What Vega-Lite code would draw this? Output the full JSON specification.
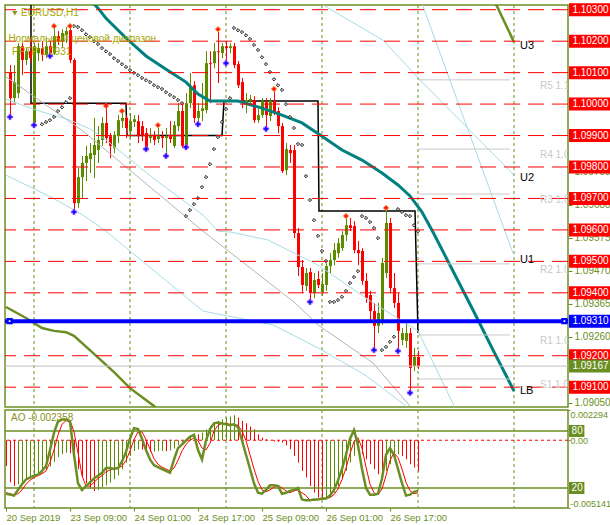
{
"$schema": "https://vega.github.io/schema/vega-lite/v6.json",
"background": "white",
"padding": {"left": 2, "top": 2, "right": 0, "bottom": 0},
"bounds": "flush",
"spacing": 3,
"config": {"view": {"stroke": "#6b8e23", "strokeWidth": 1.5}, "text": {"font": "Liberation Sans"}},
"datasets": {
"levels": [{"p":1.103,"t":"1.10300"},{"p":1.102,"t":"1.10200"},{"p":1.101,"t":"1.10100"},{"p":1.1,"t":"1.10000"},{"p":1.099,"t":"1.09900"},{"p":1.098,"t":"1.09800"},{"p":1.097,"t":"1.09700"},{"p":1.096,"t":"1.09600"},{"p":1.095,"t":"1.09500"},{"p":1.094,"t":"1.09400"},{"p":1.092,"t":"1.09200"},{"p":1.091,"t":"1.09100"}],
"candles": [
{"i":1,"o":1.10102,"h":1.10124,"l":1.09959,"c":1.10019},{"i":2,"o":1.10019,"h":1.10124,"l":1.10003,"c":1.10070},{"i":3,"o":1.10035,"h":1.10194,"l":1.10019,"c":1.10184},{"i":4,"o":1.10184,"h":1.10194,"l":1.10092,"c":1.10140},{"i":5,"o":1.10140,"h":1.10178,"l":1.10124,"c":1.10168},{"i":6,"o":1.10168,"h":1.10210,"l":1.10130,"c":1.10146},{"i":7,"o":1.09940,"h":1.10194,"l":1.09933,"c":1.10184},{"i":8,"o":1.10162,"h":1.10194,"l":1.10137,"c":1.10178},{"i":9,"o":1.10178,"h":1.10200,"l":1.10137,"c":1.10156},{"i":10,"o":1.10156,"h":1.10207,"l":1.10146,"c":1.10184},
{"i":11,"o":1.10184,"h":1.10200,"l":1.10153,"c":1.10162},{"i":12,"o":1.10162,"h":1.10248,"l":1.10156,"c":1.10216},{"i":13,"o":1.10216,"h":1.10232,"l":1.10188,"c":1.10200},{"i":14,"o":1.10200,"h":1.10238,"l":1.10178,"c":1.10226},{"i":15,"o":1.10219,"h":1.10245,"l":1.10194,"c":1.10232},{"i":16,"o":1.10235,"h":1.10248,"l":1.10130,"c":1.10140},{"i":17,"o":1.10140,"h":1.10146,"l":1.09657,"c":1.09685},{"i":18,"o":1.09685,"h":1.09797,"l":1.09670,"c":1.09768},{"i":19,"o":1.09768,"h":1.09835,"l":1.09701,"c":1.09813},{"i":20,"o":1.09813,"h":1.09867,"l":1.09755,"c":1.09835},
{"i":21,"o":1.09825,"h":1.09876,"l":1.09781,"c":1.09844},{"i":22,"o":1.09838,"h":1.09956,"l":1.09765,"c":1.09870},{"i":23,"o":1.09854,"h":1.09930,"l":1.09813,"c":1.09886},{"i":24,"o":1.09886,"h":1.09959,"l":1.09867,"c":1.09940},{"i":25,"o":1.09940,"h":1.09994,"l":1.09876,"c":1.09892},{"i":26,"o":1.09898,"h":1.09908,"l":1.09828,"c":1.09867},{"i":27,"o":1.09860,"h":1.09914,"l":1.09844,"c":1.09902},{"i":28,"o":1.09898,"h":1.09965,"l":1.09876,"c":1.09949},{"i":29,"o":1.09946,"h":1.09978,"l":1.09924,"c":1.09956},{"i":30,"o":1.09956,"h":1.09965,"l":1.09892,"c":1.09924},
{"i":31,"o":1.09914,"h":1.09971,"l":1.09892,"c":1.09946},{"i":32,"o":1.09943,"h":1.09965,"l":1.09927,"c":1.09952},{"i":33,"o":1.09946,"h":1.09965,"l":1.09876,"c":1.09898},{"i":34,"o":1.09930,"h":1.09946,"l":1.09882,"c":1.09898},{"i":35,"o":1.09908,"h":1.09924,"l":1.09857,"c":1.09860},{"i":36,"o":1.09892,"h":1.09924,"l":1.09876,"c":1.09902},{"i":37,"o":1.09902,"h":1.09914,"l":1.09870,"c":1.09886},{"i":38,"o":1.09889,"h":1.09933,"l":1.09876,"c":1.09898},{"i":39,"o":1.09898,"h":1.09914,"l":1.09860,"c":1.09892},{"i":40,"o":1.09892,"h":1.09924,"l":1.09835,"c":1.09898},
{"i":41,"o":1.09898,"h":1.09946,"l":1.09876,"c":1.09889},{"i":42,"o":1.09867,"h":1.09946,"l":1.09860,"c":1.09933},{"i":43,"o":1.09930,"h":1.10003,"l":1.09914,"c":1.09978},{"i":44,"o":1.09978,"h":1.10003,"l":1.09860,"c":1.09867},{"i":45,"o":1.09867,"h":1.10035,"l":1.09863,"c":1.10003},{"i":46,"o":1.10003,"h":1.10099,"l":1.09987,"c":1.10057},{"i":47,"o":1.10060,"h":1.10073,"l":1.09940,"c":1.09956},{"i":48,"o":1.09956,"h":1.10003,"l":1.09936,"c":1.09978},{"i":49,"o":1.09978,"h":1.10067,"l":1.09946,"c":1.09987},{"i":50,"o":1.09981,"h":1.10168,"l":1.09971,"c":1.10130},
{"i":51,"o":1.10130,"h":1.10168,"l":1.10003,"c":1.10127},{"i":52,"o":1.10130,"h":1.10194,"l":1.10114,"c":1.10168},{"i":53,"o":1.10168,"h":1.10238,"l":1.10067,"c":1.10165},{"i":54,"o":1.10162,"h":1.10194,"l":1.10146,"c":1.10184},{"i":55,"o":1.10184,"h":1.10200,"l":1.10130,"c":1.10178},{"i":56,"o":1.10178,"h":1.10194,"l":1.10162,"c":1.10184},{"i":57,"o":1.10184,"h":1.10194,"l":1.10114,"c":1.10124},{"i":58,"o":1.10127,"h":1.10137,"l":1.10051,"c":1.10060},{"i":59,"o":1.10070,"h":1.10083,"l":1.09987,"c":1.10010},{"i":60,"o":1.10003,"h":1.10035,"l":1.09971,"c":1.10013},
{"i":61,"o":1.10010,"h":1.10029,"l":1.09997,"c":1.10016},{"i":62,"o":1.10013,"h":1.10025,"l":1.09940,"c":1.09949},{"i":63,"o":1.09949,"h":1.09987,"l":1.09940,"c":1.09965},{"i":64,"o":1.09965,"h":1.10019,"l":1.09956,"c":1.10010},{"i":65,"o":1.10006,"h":1.10019,"l":1.09921,"c":1.09965},{"i":66,"o":1.09962,"h":1.10019,"l":1.09946,"c":1.10010},{"i":67,"o":1.10010,"h":1.10048,"l":1.09965,"c":1.09971},{"i":68,"o":1.09978,"h":1.09990,"l":1.09908,"c":1.09930},{"i":69,"o":1.09930,"h":1.09940,"l":1.09781,"c":1.09787},{"i":70,"o":1.09790,"h":1.09876,"l":1.09774,"c":1.09857},
{"i":71,"o":1.09854,"h":1.09870,"l":1.09813,"c":1.09844},{"i":72,"o":1.09854,"h":1.09870,"l":1.09574,"c":1.09590},{"i":73,"o":1.09590,"h":1.09606,"l":1.09453,"c":1.09482},{"i":74,"o":1.09482,"h":1.09504,"l":1.09399,"c":1.09425},{"i":75,"o":1.09422,"h":1.09479,"l":1.09406,"c":1.09463},{"i":76,"o":1.09466,"h":1.09479,"l":1.09371,"c":1.09399},{"i":77,"o":1.09399,"h":1.09463,"l":1.09383,"c":1.09441},{"i":78,"o":1.09444,"h":1.09469,"l":1.09415,"c":1.09425},{"i":79,"o":1.09403,"h":1.09463,"l":1.09390,"c":1.09428},{"i":80,"o":1.09425,"h":1.09495,"l":1.09406,"c":1.09485},
{"i":81,"o":1.09485,"h":1.09526,"l":1.09463,"c":1.09504},{"i":82,"o":1.09504,"h":1.09558,"l":1.09488,"c":1.09536},{"i":83,"o":1.09526,"h":1.09574,"l":1.09511,"c":1.09558},{"i":84,"o":1.09542,"h":1.09596,"l":1.09533,"c":1.09584},{"i":85,"o":1.09584,"h":1.09644,"l":1.09565,"c":1.09615},{"i":86,"o":1.09615,"h":1.09638,"l":1.09596,"c":1.09606},{"i":87,"o":1.09612,"h":1.09628,"l":1.09526,"c":1.09536},{"i":88,"o":1.09536,"h":1.09565,"l":1.09488,"c":1.09526},{"i":89,"o":1.09533,"h":1.09542,"l":1.09425,"c":1.09438},{"i":90,"o":1.09438,"h":1.09463,"l":1.09368,"c":1.09383},
{"i":91,"o":1.09393,"h":1.09406,"l":1.09310,"c":1.09342},{"i":92,"o":1.09342,"h":1.09368,"l":1.09218,"c":1.09295},{"i":93,"o":1.09295,"h":1.09368,"l":1.09272,"c":1.09336},{"i":94,"o":1.09310,"h":1.09511,"l":1.09298,"c":1.09495},{"i":95,"o":1.09463,"h":1.09670,"l":1.09447,"c":1.09622},{"i":96,"o":1.09622,"h":1.09638,"l":1.09399,"c":1.09415},{"i":97,"o":1.09415,"h":1.09463,"l":1.09352,"c":1.09368},{"i":98,"o":1.09368,"h":1.09399,"l":1.09215,"c":1.09279},{"i":99,"o":1.09250,"h":1.09288,"l":1.09234,"c":1.09272},{"i":100,"o":1.09247,"h":1.09310,"l":1.09225,"c":1.09272},
{"i":101,"o":1.09272,"h":1.09288,"l":1.09082,"c":1.09161},{"i":102,"o":1.09167,"h":1.09225,"l":1.09151,"c":1.09196},{"i":103,"o":1.09196,"h":1.09215,"l":1.09158,"c":1.09167}
],
"sar": [
{"i":9,"p":1.09936},{"i":10,"p":1.09943},{"i":11,"p":1.09949},{"i":12,"p":1.09959},{"i":13,"p":1.09978},{"i":14,"p":1.09990},{"i":15,"p":1.10006},{"i":16,"p":1.10019},
{"i":17,"p":1.10248},{"i":18,"p":1.10245},{"i":19,"p":1.10235},{"i":20,"p":1.10222},{"i":21,"p":1.10213},{"i":22,"p":1.10200},{"i":23,"p":1.10191},{"i":24,"p":1.10178},{"i":25,"p":1.10168},{"i":26,"p":1.10159},{"i":27,"p":1.10146},{"i":28,"p":1.10137},{"i":29,"p":1.10127},{"i":30,"p":1.10118},{"i":31,"p":1.10108},{"i":32,"p":1.10099},{"i":33,"p":1.10092},{"i":34,"p":1.10083},{"i":35,"p":1.10076},{"i":36,"p":1.10070},{"i":37,"p":1.10060},{"i":38,"p":1.10054},{"i":39,"p":1.10048},{"i":40,"p":1.10038},{"i":41,"p":1.10029},{"i":42,"p":1.10022},{"i":43,"p":1.10013},{"i":44,"p":1.10003},
{"i":45,"p":1.09644},{"i":46,"p":1.09663},{"i":47,"p":1.09682},{"i":48,"p":1.09701},{"i":49,"p":1.09736},{"i":50,"p":1.09768},{"i":51,"p":1.09809},{"i":52,"p":1.09857},{"i":53,"p":1.09895},{"i":54,"p":1.09943},{"i":55,"p":1.09984},{"i":56,"p":1.10019},
{"i":57,"p":1.10242},{"i":58,"p":1.10235},{"i":59,"p":1.10229},{"i":60,"p":1.10219},{"i":61,"p":1.10207},{"i":62,"p":1.10188},{"i":63,"p":1.10172},{"i":64,"p":1.10149},{"i":65,"p":1.10127},{"i":66,"p":1.10102},{"i":67,"p":1.10079},{"i":68,"p":1.10060},{"i":69,"p":1.10045},{"i":70,"p":1.10000},{"i":71,"p":1.09959},{"i":72,"p":1.09924},{"i":73,"p":1.09873},{"i":74,"p":1.09870},{"i":75,"p":1.09771},{"i":76,"p":1.09695},{"i":77,"p":1.09631},{"i":78,"p":1.09581},{"i":79,"p":1.09533},{"i":80,"p":1.09501},
{"i":81,"p":1.09371},{"i":82,"p":1.09371},{"i":83,"p":1.09377},{"i":84,"p":1.09387},{"i":85,"p":1.09406},{"i":86,"p":1.09431},{"i":87,"p":1.09450},{"i":88,"p":1.09469},
{"i":89,"p":1.09644},{"i":90,"p":1.09638},{"i":91,"p":1.09625},{"i":92,"p":1.09606},{"i":93,"p":1.09574},
{"i":94,"p":1.09218},{"i":95,"p":1.09228},{"i":96,"p":1.09244},{"i":97,"p":1.09260},
{"i":98,"p":1.09666},{"i":99,"p":1.09657},{"i":100,"p":1.09647},{"i":101,"p":1.09644},{"i":102,"p":1.09615},{"i":103,"p":1.09596}
],
"fracUp": [{"i":12,"p":1.10248},{"i":16,"p":1.10248},{"i":25,"p":1.09994},{"i":29,"p":1.09978},{"i":38,"p":1.09933},{"i":53,"p":1.10238},{"i":67,"p":1.10048},{"i":85,"p":1.09644},{"i":95,"p":1.09670}],
"fracDn": [{"i":1,"p":1.09959},{"i":7,"p":1.09933},{"i":11,"p":1.10153},{"i":17,"p":1.09657},{"i":35,"p":1.09857},{"i":40,"p":1.09835},{"i":45,"p":1.09863},{"i":48,"p":1.09936},{"i":55,"p":1.10130},{"i":65,"p":1.09921},{"i":76,"p":1.09371},{"i":92,"p":1.09218},{"i":98,"p":1.09215},{"i":101,"p":1.09082}],
"ind": [
{"s":"teal","i":20,"p":1.10346},{"s":"teal","i":23,"p":1.10305},{"s":"teal","i":25,"p":1.10273},{"s":"teal","i":30,"p":1.10210},{"s":"teal","i":35,"p":1.10153},{"s":"teal","i":40,"p":1.10111},{"s":"teal","i":45,"p":1.10070},{"s":"teal","i":48,"p":1.10032},{"s":"teal","i":51,"p":1.10010},{"s":"teal","i":58,"p":1.10010},{"s":"teal","i":64,"p":1.09987},{"s":"teal","i":69,"p":1.09965},{"s":"teal","i":74,"p":1.09940},{"s":"teal","i":79,"p":1.09898},{"s":"teal","i":84,"p":1.09854},{"s":"teal","i":89,"p":1.09822},{"s":"teal","i":94,"p":1.09781},{"s":"teal","i":98,"p":1.09743},{"s":"teal","i":101,"p":1.09708},{"s":"teal","i":104,"p":1.09657},{"s":"teal","i":107,"p":1.09587},{"s":"teal","i":112,"p":1.09463},{"s":"teal","i":117,"p":1.09339},{"s":"teal","i":122,"p":1.09212},{"s":"teal","i":127,"p":1.09088},
{"s":"olLow","i":0,"p":1.09355},{"s":"olLow","i":5,"p":1.09320},{"s":"olLow","i":9,"p":1.09288},{"s":"olLow","i":12,"p":1.09279},{"s":"olLow","i":15,"p":1.09275},{"s":"olLow","i":17,"p":1.09263},{"s":"olLow","i":22,"p":1.09206},{"s":"olLow","i":27,"p":1.09148},{"s":"olLow","i":31,"p":1.09097},{"s":"olLow","i":37,"p":1.09040},{"s":"olLow","i":40,"p":1.09002},
{"s":"olUp","i":121,"p":1.10337},{"s":"olUp","i":122.75,"p":1.10311},{"s":"olUp","i":127,"p":1.10197},
{"s":"lbUp","i":0,"p":1.10016},{"s":"lbUp","i":7.5,"p":1.09981},{"s":"lbUp","i":16,"p":1.09949},{"s":"lbUp","i":21,"p":1.09921},{"s":"lbUp","i":25,"p":1.09886},{"s":"lbUp","i":36.75,"p":1.09765},{"s":"lbUp","i":49.25,"p":1.09647},{"s":"lbUp","i":53,"p":1.09596},{"s":"lbUp","i":56.25,"p":1.09593},{"s":"lbUp","i":65.5,"p":1.09568},{"s":"lbUp","i":78,"p":1.09488},{"s":"lbUp","i":91.75,"p":1.09368},{"s":"lbUp","i":103,"p":1.09279},{"s":"lbUp","i":112.25,"p":1.09034},
{"s":"lbLow","i":0,"p":1.09774},{"s":"lbLow","i":11.75,"p":1.09701},{"s":"lbLow","i":19.25,"p":1.09647},{"s":"lbLow","i":25,"p":1.09596},{"s":"lbLow","i":49.25,"p":1.09342},{"s":"lbLow","i":66.75,"p":1.09298},{"s":"lbLow","i":78,"p":1.09225},{"s":"lbLow","i":89.75,"p":1.09139},{"s":"lbLow","i":100,"p":1.09040},{"s":"lbLow","i":101.75,"p":1.09018},
{"s":"lbU1","i":103.5,"p":1.10324},{"s":"lbU1","i":104.25,"p":1.10311},{"s":"lbU1","i":126.75,"p":1.09526},
{"s":"lbU2","i":76.75,"p":1.10337},{"s":"lbU2","i":79.25,"p":1.10315},{"s":"lbU2","i":94.25,"p":1.10203},{"s":"lbU2","i":104.25,"p":1.10067},{"s":"lbU2","i":127,"p":1.09774},
{"s":"gray","i":0,"p":1.10086},{"s":"gray","i":1.25,"p":1.10076},{"s":"gray","i":19.25,"p":1.09914},{"s":"gray","i":49.25,"p":1.09596},{"s":"gray","i":72.25,"p":1.09368},{"s":"gray","i":78,"p":1.09298},{"s":"gray","i":91.75,"p":1.09177},{"s":"gray","i":101,"p":1.09040}
],
"blk": [{"k":0,"i":6.25,"p":1.10315},{"k":1,"i":6.25,"p":1.10003},{"k":2,"i":30,"p":1.10003},{"k":3,"i":30.25,"p":1.09900},{"k":4,"i":54,"p":1.09900},{"k":5,"i":54.5,"p":1.10010},{"k":6,"i":78,"p":1.10010},{"k":7,"i":78.25,"p":1.09660},{"k":8,"i":102.25,"p":1.09660},{"k":9,"i":103,"p":1.09272}],
"pivots": [{"p":1.10077,"t":"R5 1.1"},{"p":1.09857,"t":"R4 1.0"},{"p":1.09714,"t":"R3 1.0"},{"p":1.09492,"t":"R2 1.0"},{"p":1.09266,"t":"R1 1.0"},{"p":1.09126,"t":"S1 1.0"}],
"ulabels": [{"t":"U3","p":1.10184},{"t":"U2","p":1.09765},{"t":"U1","p":1.09504},{"t":"LB","p":1.09088}],
"ao": [
{"i":0,"ao":-0.00195},{"i":1,"ao":-0.00320},{"i":2,"ao":-0.00347},{"i":3,"ao":-0.00334},{"i":4,"ao":-0.00316},{"i":5,"ao":-0.00301},{"i":6,"ao":-0.00291},{"i":7,"ao":-0.00276},{"i":8,"ao":-0.00261},{"i":9,"ao":-0.00245},{"i":10,"ao":-0.00228},
{"i":11,"ao":-0.00200},{"i":12,"ao":-0.00164},{"i":13,"ao":-0.00127},{"i":14,"ao":-0.00106},{"i":15,"ao":-0.00094},{"i":16,"ao":-0.00099},{"i":17,"ao":-0.00157},{"i":18,"ao":-0.00220},{"i":19,"ao":-0.00276},{"i":20,"ao":-0.00326},
{"i":21,"ao":-0.00367},{"i":22,"ao":-0.00385},{"i":23,"ao":-0.00377},{"i":24,"ao":-0.00359},{"i":25,"ao":-0.00342},{"i":26,"ao":-0.00321},{"i":27,"ao":-0.00296},{"i":28,"ao":-0.00266},{"i":29,"ao":-0.00220},{"i":30,"ao":-0.00170},
{"i":31,"ao":-0.00119},{"i":32,"ao":-0.00081},{"i":33,"ao":-0.00068},{"i":34,"ao":-0.00071},{"i":35,"ao":-0.00083},{"i":36,"ao":-0.00089},{"i":37,"ao":-0.00086},{"i":38,"ao":-0.00083},{"i":39,"ao":-0.00081},{"i":40,"ao":-0.00083},
{"i":41,"ao":-0.00078},{"i":42,"ao":-0.00063},{"i":43,"ao":-0.00038},{"i":44,"ao":-0.00018},{"i":45,"ao":0.00003},{"i":46,"ao":0.00033},{"i":47,"ao":0.00046},{"i":48,"ao":0.00045},{"i":49,"ao":0.00058},{"i":50,"ao":0.00083},
{"i":51,"ao":0.00109},{"i":52,"ao":0.00134},{"i":53,"ao":0.00147},{"i":54,"ao":0.00159},{"i":55,"ao":0.00172},{"i":56,"ao":0.00180},{"i":57,"ao":0.00190},{"i":58,"ao":0.00172},{"i":59,"ao":0.00147},{"i":60,"ao":0.00129},
{"i":61,"ao":0.00104},{"i":62,"ao":0.00083},{"i":63,"ao":0.00046},{"i":64,"ao":0.00020},{"i":65,"ao":0.00008},{"i":66,"ao":-0.00003},{"i":67,"ao":-0.00010},{"i":68,"ao":-0.00013},{"i":69,"ao":-0.00018},{"i":70,"ao":-0.00038},
{"i":71,"ao":-0.00068},{"i":72,"ao":-0.00119},{"i":73,"ao":-0.00170},{"i":74,"ao":-0.00233},{"i":75,"ao":-0.00283},{"i":76,"ao":-0.00347},{"i":77,"ao":-0.00397},{"i":78,"ao":-0.00435},{"i":79,"ao":-0.00453},{"i":80,"ao":-0.00448},
{"i":81,"ao":-0.00435},{"i":82,"ao":-0.00397},{"i":83,"ao":-0.00347},{"i":84,"ao":-0.00296},{"i":85,"ao":-0.00233},{"i":86,"ao":-0.00170},{"i":87,"ao":-0.00119},{"i":88,"ao":-0.00094},{"i":89,"ao":-0.00106},{"i":90,"ao":-0.00144},
{"i":91,"ao":-0.00182},{"i":92,"ao":-0.00220},{"i":93,"ao":-0.00258},{"i":94,"ao":-0.00271},{"i":95,"ao":-0.00233},{"i":96,"ao":-0.00182},{"i":97,"ao":-0.00119},{"i":98,"ao":-0.00106},{"i":99,"ao":-0.00119},{"i":100,"ao":-0.00144},
{"i":101,"ao":-0.00182},{"i":102,"ao":-0.00207},{"i":103,"ao":-0.00236}
],
"stoch": [
{"i":0,"m":14,"s":15},{"i":1,"m":13,"s":14},{"i":2,"m":12,"s":13},{"i":3,"m":18,"s":14},{"i":4,"m":24,"s":18},{"i":5,"m":29,"s":24},{"i":6,"m":31,"s":28},{"i":7,"m":33,"s":31},{"i":8,"m":34,"s":33},{"i":9,"m":38,"s":35},{"i":10,"m":43,"s":38},
{"i":11,"m":60,"s":47},{"i":12,"m":78,"s":60},{"i":13,"m":90,"s":76},{"i":14,"m":92,"s":87},{"i":15,"m":92,"s":91},{"i":16,"m":90,"s":91},{"i":17,"m":55,"s":79},{"i":18,"m":25,"s":57},{"i":19,"m":18,"s":33},{"i":20,"m":22,"s":22},
{"i":21,"m":26,"s":22},{"i":22,"m":30,"s":26},{"i":23,"m":33,"s":30},{"i":24,"m":36,"s":33},{"i":25,"m":41,"s":37},{"i":26,"m":41,"s":39},{"i":27,"m":40,"s":41},{"i":28,"m":41,"s":41},{"i":29,"m":48,"s":43},{"i":30,"m":58,"s":49},
{"i":31,"m":72,"s":59},{"i":32,"m":83,"s":71},{"i":33,"m":82,"s":79},{"i":34,"m":72,"s":79},{"i":35,"m":60,"s":71},{"i":36,"m":50,"s":61},{"i":37,"m":44,"s":51},{"i":38,"m":42,"s":45},{"i":39,"m":40,"s":42},{"i":40,"m":38,"s":40},
{"i":41,"m":36,"s":38},{"i":42,"m":50,"s":41},{"i":43,"m":62,"s":49},{"i":44,"m":66,"s":59},{"i":45,"m":70,"s":66},{"i":46,"m":74,"s":70},{"i":47,"m":76,"s":73},{"i":48,"m":60,"s":70},{"i":49,"m":50,"s":62},{"i":50,"m":70,"s":60},
{"i":51,"m":82,"s":67},{"i":52,"m":88,"s":80},{"i":53,"m":89,"s":86},{"i":54,"m":88,"s":88},{"i":55,"m":87,"s":88},{"i":56,"m":86,"s":87},{"i":57,"m":87,"s":87},{"i":58,"m":84,"s":86},{"i":59,"m":70,"s":80},{"i":60,"m":55,"s":70},
{"i":61,"m":40,"s":55},{"i":62,"m":25,"s":40},{"i":63,"m":15,"s":27},{"i":64,"m":14,"s":18},{"i":65,"m":18,"s":16},{"i":66,"m":23,"s":18},{"i":67,"m":23,"s":21},{"i":68,"m":22,"s":23},{"i":69,"m":14,"s":20},{"i":70,"m":15,"s":17},
{"i":71,"m":17,"s":15},{"i":72,"m":18,"s":17},{"i":73,"m":20,"s":18},{"i":74,"m":8,"s":15},{"i":75,"m":7,"s":12},{"i":76,"m":7,"s":7},{"i":77,"m":8,"s":7},{"i":78,"m":8,"s":8},{"i":79,"m":9,"s":8},{"i":80,"m":9,"s":9},
{"i":81,"m":12,"s":10},{"i":82,"m":18,"s":13},{"i":83,"m":28,"s":19},{"i":84,"m":40,"s":29},{"i":85,"m":55,"s":41},{"i":86,"m":72,"s":56},{"i":87,"m":81,"s":69},{"i":88,"m":65,"s":73},{"i":89,"m":40,"s":62},{"i":90,"m":20,"s":42},
{"i":91,"m":13,"s":24},{"i":92,"m":13,"s":15},{"i":93,"m":14,"s":13},{"i":94,"m":30,"s":19},{"i":95,"m":55,"s":33},{"i":96,"m":62,"s":49},{"i":97,"m":55,"s":57},{"i":98,"m":40,"s":52},{"i":99,"m":25,"s":40},{"i":100,"m":12,"s":26},
{"i":101,"m":13,"s":17},{"i":102,"m":16,"s":14},{"i":103,"m":17,"s":15}
]
},
"vconcat": [
{
"width": 563, "height": 402,
"resolve": {"axis": {"y": "independent", "x": "independent"}},
"layer": [
{"data": {"values": [{"i":7},{"i":31},{"i":55},{"i":79},{"i":103},{"i":127}]},
 "mark": {"type": "rule", "color": "#6b8e23", "strokeDash": [3,3], "strokeWidth": 1},
 "encoding": {"x": {"field": "i", "type": "quantitative", "scale": {"domain": [-0.25,140.5], "nice": false, "zero": false}, "axis": null}}},
{"data": {"name": "blk"},
 "mark": {"type": "line", "color": "#000000", "strokeWidth": 1.5, "clip": true},
 "encoding": {"x": {"field": "i", "type": "quantitative", "scale": {"domain": [-0.25,140.5], "nice": false, "zero": false}, "axis": null},
  "y": {"field": "p", "type": "quantitative", "scale": {"domain": [1.09037,1.10315], "nice": false, "zero": false}, "axis": null},
  "order": {"field": "k"}}},
{"data": {"name": "candles"},
 "mark": {"type": "rule", "strokeWidth": 1, "xOffset": 0.5},
 "encoding": {"x": {"field": "i", "type": "quantitative", "scale": {"domain": [-0.25,140.5], "nice": false, "zero": false}, "axis": null},
  "y": {"field": "l", "type": "quantitative", "scale": {"domain": [1.09037,1.10315], "nice": false, "zero": false}, "axis": null},
  "y2": {"field": "h"},
  "color": {"condition": {"test": "datum.c >= datum.o", "value": "#5b8c00"}, "value": "#ff0000"}}},
{"data": {"name": "candles"},
 "mark": {"type": "rule", "strokeWidth": 3, "strokeCap": "butt", "xOffset": 0.5},
 "encoding": {"x": {"field": "i", "type": "quantitative", "scale": {"domain": [-0.25,140.5], "nice": false, "zero": false}, "axis": null},
  "y": {"field": "o", "type": "quantitative", "scale": {"domain": [1.09037,1.10315], "nice": false, "zero": false}, "axis": null},
  "y2": {"field": "c"},
  "color": {"condition": {"test": "datum.c >= datum.o", "value": "#5b8c00"}, "value": "#ff0000"}}},
{"data": {"name": "ind"}, "transform": [{"filter": "datum.s == 'gray'"}],
 "mark": {"type": "line", "color": "#b4b4b4", "strokeWidth": 1, "clip": true},
 "encoding": {"x": {"field": "i", "type": "quantitative", "scale": {"domain": [-0.25,140.5], "nice": false, "zero": false}, "axis": null},
  "y": {"field": "p", "type": "quantitative", "scale": {"domain": [1.09037,1.10315], "nice": false, "zero": false}, "axis": null}}},
{"data": {"name": "ind"}, "transform": [{"filter": "indexof(['lbUp','lbLow','lbU1','lbU2'], datum.s) >= 0"}],
 "mark": {"type": "line", "color": "#a6dbe6", "strokeWidth": 1, "clip": true},
 "encoding": {"x": {"field": "i", "type": "quantitative", "scale": {"domain": [-0.25,140.5], "nice": false, "zero": false}, "axis": null},
  "y": {"field": "p", "type": "quantitative", "scale": {"domain": [1.09037,1.10315], "nice": false, "zero": false}, "axis": null},
  "detail": {"field": "s"}}},
{"data": {"name": "ind"}, "transform": [{"filter": "datum.s == 'olLow' || datum.s == 'olUp'"}],
 "mark": {"type": "line", "color": "#6b8e23", "strokeWidth": 2.5, "clip": true},
 "encoding": {"x": {"field": "i", "type": "quantitative", "scale": {"domain": [-0.25,140.5], "nice": false, "zero": false}, "axis": null},
  "y": {"field": "p", "type": "quantitative", "scale": {"domain": [1.09037,1.10315], "nice": false, "zero": false}, "axis": null},
  "detail": {"field": "s"}}},
{"data": {"name": "ind"}, "transform": [{"filter": "datum.s == 'teal'"}],
 "mark": {"type": "line", "color": "#00807f", "strokeWidth": 3, "clip": true},
 "encoding": {"x": {"field": "i", "type": "quantitative", "scale": {"domain": [-0.25,140.5], "nice": false, "zero": false}, "axis": null},
  "y": {"field": "p", "type": "quantitative", "scale": {"domain": [1.09037,1.10315], "nice": false, "zero": false}, "axis": null}}},
{"data": {"name": "sar"},
 "mark": {"type": "point", "shape": "diamond", "size": 10, "filled": true, "color": "#ffffff", "stroke": "#000000", "strokeWidth": 1, "opacity": 1},
 "encoding": {"x": {"field": "i", "type": "quantitative", "scale": {"domain": [-0.25,140.5], "nice": false, "zero": false}, "axis": null},
  "y": {"field": "p", "type": "quantitative", "scale": {"domain": [1.09037,1.10315], "nice": false, "zero": false}, "axis": null}}},
{"data": {"name": "fracUp"},
 "mark": {"type": "point", "shape": "diamond", "size": 30, "filled": true, "color": "#ff1a1a", "stroke": "#ffa040", "strokeWidth": 1, "opacity": 1},
 "encoding": {"x": {"field": "i", "type": "quantitative", "scale": {"domain": [-0.25,140.5], "nice": false, "zero": false}, "axis": null},
  "y": {"field": "p", "type": "quantitative", "scale": {"domain": [1.09037,1.10315], "nice": false, "zero": false}, "axis": null}}},
{"data": {"name": "fracDn"},
 "mark": {"type": "point", "shape": "cross", "size": 30, "filled": true, "color": "#1010ff", "stroke": "#c060ff", "strokeWidth": 0.6, "opacity": 1},
 "encoding": {"x": {"field": "i", "type": "quantitative", "scale": {"domain": [-0.25,140.5], "nice": false, "zero": false}, "axis": null},
  "y": {"field": "p", "type": "quantitative", "scale": {"domain": [1.09037,1.10315], "nice": false, "zero": false}, "axis": null}}},
{"data": {"name": "pivots"},
 "mark": {"type": "rule", "color": "#c8c8c8", "strokeWidth": 1},
 "encoding": {"x": {"datum": 103.25, "type": "quantitative", "scale": {"domain": [-0.25,140.5], "nice": false, "zero": false}, "axis": null},
  "x2": {"datum": 126},
  "y": {"field": "p", "type": "quantitative", "scale": {"domain": [1.09037,1.10315], "nice": false, "zero": false}, "axis": null}}},
{"data": {"values": [{"p": 1.09167}]},
 "mark": {"type": "rule", "color": "#c0c0c0", "strokeWidth": 1},
 "encoding": {"y": {"field": "p", "type": "quantitative", "scale": {"domain": [1.09037,1.10315], "nice": false, "zero": false}, "axis": null}}},
{"data": {"name": "levels"},
 "mark": {"type": "rule", "color": "#ff0000", "strokeDash": [16,8], "strokeWidth": 1},
 "encoding": {"y": {"field": "p", "type": "quantitative", "scale": {"domain": [1.09037,1.10315], "nice": false, "zero": false},
  "axis": {"orient": "right", "values": [1.0905,1.0926,1.09365,1.0947,1.09575,1.0968,1.09785,1.0989,1.09995], "format": ".5f", "labelColor": "#6b8e23", "tickColor": "#6b8e23", "tickSize": 4, "labelPadding": 2, "labelFontSize": 10, "labelFont": "Liberation Sans", "domain": false, "grid": false, "title": null, "labelOverlap": false, "labelFlush": false}}}},
{"data": {"values": [{"p": 1.0931}]},
 "mark": {"type": "rule", "color": "#0000ff", "strokeWidth": 4},
 "encoding": {"y": {"field": "p", "type": "quantitative", "scale": {"domain": [1.09037,1.10315], "nice": false, "zero": false}, "axis": null}}},
{"data": {"values": [{"i": 0.9, "p": 1.0931}, {"i": 139.6, "p": 1.0931}]},
 "mark": {"type": "point", "shape": "square", "size": 40, "filled": true, "color": "#0000ff", "opacity": 1},
 "encoding": {"x": {"field": "i", "type": "quantitative", "scale": {"domain": [-0.25,140.5], "nice": false, "zero": false}, "axis": null},
  "y": {"field": "p", "type": "quantitative", "scale": {"domain": [1.09037,1.10315], "nice": false, "zero": false}, "axis": null}}},
{"data": {"values": [{"i": 0.9, "p": 1.0931}, {"i": 139.6, "p": 1.0931}]},
 "mark": {"type": "point", "shape": "square", "size": 3, "filled": true, "color": "#ffffff", "opacity": 1},
 "encoding": {"x": {"field": "i", "type": "quantitative", "scale": {"domain": [-0.25,140.5], "nice": false, "zero": false}, "axis": null},
  "y": {"field": "p", "type": "quantitative", "scale": {"domain": [1.09037,1.10315], "nice": false, "zero": false}, "axis": null}}},
{"data": {"name": "levels"},
 "mark": {"type": "rule", "color": "#ff0000", "strokeWidth": 13},
 "encoding": {"x": {"datum": 140.75, "type": "quantitative", "scale": {"domain": [-0.25,140.5], "nice": false, "zero": false}, "axis": null},
  "x2": {"datum": 151.25},
  "y": {"field": "p", "type": "quantitative", "scale": {"domain": [1.09037,1.10315], "nice": false, "zero": false}, "axis": null}}},
{"data": {"values": [{"p": 1.0931, "t": "1.09310", "c": "#0000ff"}, {"p": 1.09167, "t": "1.09167", "c": "#6b8e23"}]},
 "mark": {"type": "rule", "strokeWidth": 13},
 "encoding": {"x": {"datum": 140.75, "type": "quantitative", "scale": {"domain": [-0.25,140.5], "nice": false, "zero": false}, "axis": null},
  "x2": {"datum": 151.25},
  "y": {"field": "p", "type": "quantitative", "scale": {"domain": [1.09037,1.10315], "nice": false, "zero": false}, "axis": null},
  "color": {"field": "c", "type": "nominal", "scale": null}}},
{"data": {"name": "levels"},
 "mark": {"type": "text", "color": "#ffffff", "align": "left", "baseline": "middle", "fontSize": 10, "font": "Liberation Sans"},
 "encoding": {"x": {"datum": 141.6, "type": "quantitative", "scale": {"domain": [-0.25,140.5], "nice": false, "zero": false}, "axis": null},
  "y": {"field": "p", "type": "quantitative", "scale": {"domain": [1.09037,1.10315], "nice": false, "zero": false}, "axis": null},
  "text": {"field": "t"}}},
{"data": {"values": [{"p": 1.0931, "t": "1.09310"}, {"p": 1.09167, "t": "1.09167"}]},
 "mark": {"type": "text", "color": "#ffffff", "align": "left", "baseline": "middle", "fontSize": 10, "font": "Liberation Sans"},
 "encoding": {"x": {"datum": 141.6, "type": "quantitative", "scale": {"domain": [-0.25,140.5], "nice": false, "zero": false}, "axis": null},
  "y": {"field": "p", "type": "quantitative", "scale": {"domain": [1.09037,1.10315], "nice": false, "zero": false}, "axis": null},
  "text": {"field": "t"}}},
{"data": {"name": "pivots"},
 "mark": {"type": "text", "color": "#c8c8c8", "align": "left", "baseline": "middle", "fontSize": 10, "dy": 6, "clip": true},
 "encoding": {"x": {"datum": 133.5, "type": "quantitative", "scale": {"domain": [-0.25,140.5], "nice": false, "zero": false}, "axis": null},
  "y": {"field": "p", "type": "quantitative", "scale": {"domain": [1.09037,1.10315], "nice": false, "zero": false}, "axis": null},
  "text": {"field": "t"}}},
{"data": {"name": "ulabels"},
 "mark": {"type": "text", "color": "#000000", "align": "left", "baseline": "middle", "fontSize": 11},
 "encoding": {"x": {"datum": 128.5, "type": "quantitative", "scale": {"domain": [-0.25,140.5], "nice": false, "zero": false}, "axis": null},
  "y": {"field": "p", "type": "quantitative", "scale": {"domain": [1.09037,1.10315], "nice": false, "zero": false}, "axis": null},
  "text": {"field": "t"}}},
{"data": {"values": [{"i": 2.2, "p": 1.10289}]},
 "mark": {"type": "point", "shape": "triangle-down", "size": 28, "filled": true, "color": "#7f9a1e", "opacity": 1},
 "encoding": {"x": {"field": "i", "type": "quantitative", "scale": {"domain": [-0.25,140.5], "nice": false, "zero": false}, "axis": null},
  "y": {"field": "p", "type": "quantitative", "scale": {"domain": [1.09037,1.10315], "nice": false, "zero": false}, "axis": null}}},
{"data": {"values": [{"i": 3.75, "p": 1.10289, "t": "EURUSD,H1"}, {"i": 0.6, "p": 1.10207, "t": "Нормальный ценовой диапазон"}, {"i": 1.5, "p": 1.10165, "t": "PPTP 1.0931"}]},
 "mark": {"type": "text", "color": "#a8a800", "align": "left", "baseline": "middle", "fontSize": 10},
 "encoding": {"x": {"field": "i", "type": "quantitative", "scale": {"domain": [-0.25,140.5], "nice": false, "zero": false}, "axis": null},
  "y": {"field": "p", "type": "quantitative", "scale": {"domain": [1.09037,1.10315], "nice": false, "zero": false}, "axis": null},
  "text": {"field": "t"}}}
]
},
{
"width": 563, "height": 98,
"resolve": {"scale": {"y": "independent"}, "axis": {"x": "independent", "y": "independent"}},
"layer": [
{"data": {"values": [{"i":7},{"i":31},{"i":55},{"i":79},{"i":103},{"i":127}]},
 "mark": {"type": "rule", "color": "#6b8e23", "strokeDash": [3,3], "strokeWidth": 1},
 "encoding": {"x": {"field": "i", "type": "quantitative", "scale": {"domain": [-0.25,140.5], "nice": false, "zero": false},
  "axis": {"orient": "bottom", "values": [0,16,32,48,64,80,96], "labelExpr": "datum.value == 0 ? '20 Sep 2019' : datum.value == 16 ? '23 Sep 09:00' : datum.value == 32 ? '24 Sep 01:00' : datum.value == 48 ? '24 Sep 17:00' : datum.value == 64 ? '25 Sep 09:00' : datum.value == 80 ? '26 Sep 01:00' : '26 Sep 17:00'", "labelAlign": "left", "labelColor": "#6b8e23", "labelFont": "Liberation Sans", "labelFontSize": 9.5, "tickColor": "#6b8e23", "tickSize": 3, "labelPadding": 1, "domain": false, "grid": false, "title": null, "labelOverlap": false, "labelFlush": false}}}},
{"data": {"values": [{"v": 0}]},
 "mark": {"type": "rule", "color": "#ff0000", "strokeDash": [3,3], "strokeWidth": 1},
 "encoding": {"y": {"field": "v", "type": "quantitative", "scale": {"domain": [-0.005141,0.002294], "nice": false, "zero": false}, "axis": null}}},
{"data": {"name": "ao"},
 "transform": [{"window": [{"op": "lag", "field": "ao", "as": "prev"}], "sort": [{"field": "i"}]}],
 "mark": {"type": "rule", "strokeWidth": 1, "xOffset": 0.5},
 "encoding": {"x": {"field": "i", "type": "quantitative", "scale": {"domain": [-0.25,140.5], "nice": false, "zero": false}, "axis": null},
  "y": {"field": "ao", "type": "quantitative", "scale": {"domain": [-0.005141,0.002294], "nice": false, "zero": false},
   "axis": {"orient": "right", "values": [0.002294, 0, -0.005141], "labelExpr": "datum.value == 0 ? '0.00' : datum.value > 0 ? '0.002294' : '-0.005141'", "labelFlush": true, "labelColor": "#6b8e23", "tickColor": "#6b8e23", "tickSize": 2, "labelPadding": 0, "labelFontSize": 9, "labelFont": "Liberation Sans", "domain": false, "grid": false, "title": null, "labelOverlap": false}},
  "y2": {"datum": 0},
  "color": {"condition": {"test": "datum.prev != null && datum.ao > datum.prev", "value": "#5b8c00"}, "value": "#ff0000"}}},
{"data": {"values": [{"v": 80}, {"v": 20}]},
 "mark": {"type": "rule", "color": "#6b8e23", "strokeWidth": 1.5},
 "encoding": {"y": {"field": "v", "type": "quantitative", "scale": {"domain": [-1.05,102.1], "nice": false, "zero": false}, "axis": null}}},
{"data": {"name": "stoch"},
 "mark": {"type": "line", "color": "#ff0000", "strokeWidth": 1, "clip": true},
 "encoding": {"x": {"field": "i", "type": "quantitative", "scale": {"domain": [-0.25,140.5], "nice": false, "zero": false}, "axis": null},
  "y": {"field": "s", "type": "quantitative", "scale": {"domain": [-1.05,102.1], "nice": false, "zero": false}, "axis": null}}},
{"data": {"name": "stoch"},
 "mark": {"type": "line", "color": "#6b8e23", "strokeWidth": 2.5, "clip": true},
 "encoding": {"x": {"field": "i", "type": "quantitative", "scale": {"domain": [-0.25,140.5], "nice": false, "zero": false}, "axis": null},
  "y": {"field": "m", "type": "quantitative", "scale": {"domain": [-1.05,102.1], "nice": false, "zero": false}, "axis": null}}},
{"data": {"values": [{"v": 80, "t": "80"}, {"v": 20, "t": "20"}]},
 "mark": {"type": "rule", "color": "#6b8e23", "strokeWidth": 12},
 "encoding": {"x": {"datum": 140.75, "type": "quantitative", "scale": {"domain": [-0.25,140.5], "nice": false, "zero": false}, "axis": null},
  "x2": {"datum": 144.6},
  "y": {"field": "v", "type": "quantitative", "scale": {"domain": [-1.05,102.1], "nice": false, "zero": false}, "axis": null}}},
{"data": {"values": [{"v": 80, "t": "80"}, {"v": 20, "t": "20"}]},
 "mark": {"type": "text", "color": "#ffffff", "align": "left", "baseline": "middle", "fontSize": 10},
 "encoding": {"x": {"datum": 141.4, "type": "quantitative", "scale": {"domain": [-0.25,140.5], "nice": false, "zero": false}, "axis": null},
  "y": {"field": "v", "type": "quantitative", "scale": {"domain": [-1.05,102.1], "nice": false, "zero": false}, "axis": null},
  "text": {"field": "t"}}},
{"data": {"values": [{"i": 1.25, "v": 0.00168, "t": "AO -0.002358"}]},
 "mark": {"type": "text", "color": "#8a8f1a", "align": "left", "baseline": "middle", "fontSize": 10},
 "encoding": {"x": {"field": "i", "type": "quantitative", "scale": {"domain": [-0.25,140.5], "nice": false, "zero": false}, "axis": null},
  "y": {"field": "v", "type": "quantitative", "scale": {"domain": [-0.005141,0.002294], "nice": false, "zero": false}, "axis": null},
  "text": {"field": "t"}}}
]
}
]
}
